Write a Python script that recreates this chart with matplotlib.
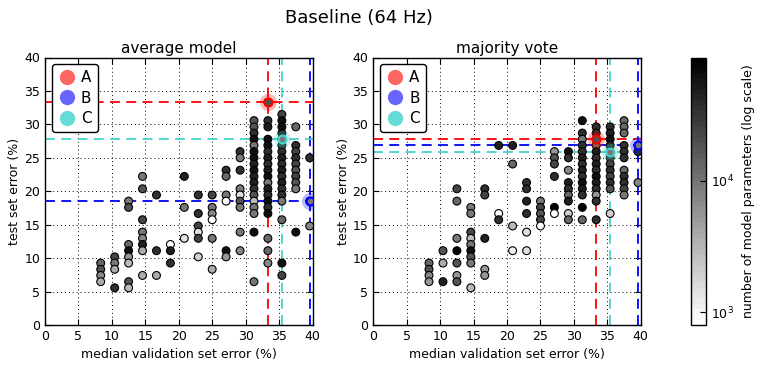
import matplotlib
matplotlib.use('Agg')
import matplotlib.pyplot as plt
from matplotlib.colors import LogNorm
from matplotlib.lines import Line2D
from matplotlib.ticker import FixedLocator, LogFormatterMathtext, NullLocator

# median validation set error (%) -- one value per column of points
val_levels = [8.33, 10.42, 12.5, 14.58, 16.67, 18.75, 20.83, 22.92,
              25.0, 27.08, 29.17, 31.25, 33.33, 35.42, 37.5, 39.58]

# ---- average model: test set error (%) per column ----
avg_test = [
    [9.26, 8.33, 7.41, 6.48],
    [10.19, 9.26, 8.33, 5.56],
    [18.52, 17.59, 12.04, 11.11, 10.19, 9.26, 6.48, 5.56],
    [22.22, 20.37, 15.74, 13.89, 12.96, 12.04, 11.11, 7.41],
    [19.44, 11.11, 7.41],
    [12.04, 11.11, 9.26],
    [22.22, 17.59, 12.96],
    [19.44, 16.67, 14.81, 13.89, 12.96, 10.19],
    [19.44, 17.59, 16.67, 15.74, 12.96, 8.33],
    [23.15, 22.22, 19.44, 18.52, 11.11, 10.19],
    [25.93, 25.00, 23.15, 20.37, 19.44, 18.52, 17.59, 13.89, 11.11],
    [30.56, 29.63, 28.70, 27.78, 26.85, 25.93, 25.00, 24.07, 23.15, 22.22,
     21.30, 20.37, 19.44, 18.52, 17.59, 16.67, 13.89, 6.48],
    [33.33, 30.56, 29.63, 27.78, 26.85, 25.93, 25.00, 24.07, 23.15, 22.22,
     21.30, 20.37, 19.44, 18.52, 17.59, 16.67, 12.96, 11.11, 9.26],
    [31.48, 30.56, 29.63, 28.70, 27.78, 26.85, 25.93, 25.00, 24.07, 23.15,
     22.22, 21.30, 20.37, 19.44, 18.52, 15.74, 9.26, 7.41],
    [29.63, 26.85, 25.93, 25.00, 24.07, 23.15, 22.22, 21.30, 20.37, 13.89],
    [25.00, 18.52, 14.81],
]
# number of model parameters per point
avg_params = [
    [13000, 18000, 7000, 3800],
    [25000, 9700, 3800, 34000],
    [9700, 18000, 13000, 63000, 5200, 2800, 18000, 2800],
    [9700, 18000, 25000, 9700, 7000, 46000, 3800, 3800],
    [34000, 34000, 3800],
    [800, 46000, 34000],
    [46000, 9700, 1500],
    [34000, 34000, 25000, 1500, 25000, 2000],
    [25000, 9700, 7000, 800, 9700, 3800],
    [34000, 13000, 9700, 800, 63000, 5200],
    [34000, 9700, 34000, 9700, 1500, 18000, 9700, 9700, 7000],
    [18000, 18000, 34000, 63000, 9700, 63000, 63000, 46000, 63000, 46000,
     46000, 34000, 18000, 2800, 9700, 9700, 63000, 9700],
    [18000, 34000, 46000, 63000, 63000, 34000, 46000, 34000, 46000, 63000,
     9700, 46000, 34000, 63000, 34000, 63000, 13000, 13000, 7000],
    [25000, 63000, 63000, 63000, 9700, 34000, 34000, 46000, 34000, 46000,
     34000, 46000, 34000, 34000, 9700, 13000, 63000, 25000],
    [13000, 34000, 25000, 34000, 25000, 18000, 25000, 18000, 9700, 63000],
    [34000, 9700, 7000],
]

# ---- majority vote: test set error (%) per column ----
mv_test = [
    [9.26, 8.33, 7.41, 6.48],
    [11.11, 9.26, 6.48],
    [20.37, 18.52, 12.96, 11.11, 9.26, 7.41, 6.48],
    [17.59, 16.67, 13.89, 12.96, 12.04, 11.11, 10.19, 9.26, 5.56],
    [20.37, 19.44, 12.96, 8.33, 7.41],
    [26.85, 16.67, 15.74],
    [26.85, 24.07, 14.81, 11.11],
    [21.30, 20.37, 18.52, 16.67, 13.89, 11.11],
    [18.52, 17.59, 16.67, 15.74, 14.81],
    [25.93, 25.00, 24.07, 22.22, 17.59, 16.67],
    [25.93, 25.00, 23.15, 21.30, 20.37, 19.44, 18.52, 16.67, 15.74],
    [30.56, 28.70, 27.78, 26.85, 25.93, 25.00, 24.07, 23.15, 22.22, 21.30,
     20.37, 19.44, 17.59, 15.74],
    [29.63, 28.70, 27.78, 26.85, 25.93, 25.00, 24.07, 23.15, 22.22, 21.30,
     20.37, 19.44, 18.52, 15.74],
    [29.63, 28.70, 27.78, 26.85, 25.93, 25.00, 24.07, 23.15, 22.22, 21.30,
     20.37, 16.67],
    [30.56, 29.63, 28.70, 26.85, 25.93, 25.00, 23.15, 22.22, 21.30, 20.37, 19.44],
    [26.85, 25.93, 21.30],
]
mv_params = [
    [13000, 18000, 7000, 5200],
    [18000, 3800, 46000],
    [25000, 13000, 9700, 86000, 18000, 5200, 18000],
    [9700, 9700, 25000, 2800, 9700, 63000, 18000, 9700, 2800],
    [34000, 25000, 46000, 5200, 5200],
    [46000, 800, 34000],
    [46000, 13000, 2800, 1100],
    [34000, 34000, 46000, 34000, 1500, 1500],
    [9700, 25000, 18000, 25000, 800],
    [5200, 18000, 25000, 34000, 86000, 800],
    [63000, 34000, 7000, 46000, 34000, 13000, 46000, 2000, 13000],
    [63000, 34000, 9700, 34000, 34000, 46000, 34000, 46000, 34000, 63000,
     46000, 34000, 86000, 13000],
    [34000, 34000, 18000, 9700, 46000, 34000, 46000, 34000, 63000, 46000,
     34000, 5200, 34000, 34000],
    [34000, 46000, 63000, 34000, 9700, 34000, 25000, 34000, 25000, 34000,
     18000, 2000],
    [13000, 13000, 13000, 34000, 34000, 34000, 13000, 34000, 34000, 25000, 9700],
    [9700, 34000, 7000],
]

# highlighted models (val error, test error)
labels = ['A', 'B', 'C']
avg_marked = {'A': (33.33, 33.33), 'B': (39.58, 18.52), 'C': (35.42, 27.78)}
mv_marked = {'A': (33.33, 27.78), 'B': (39.58, 26.85), 'C': (35.42, 25.93)}
line_colors = {'A': '#ff0000', 'B': '#0000ff', 'C': '#48d1cc'}
legend_colors = {'A': '#ff6666', 'B': '#6666ff', 'C': '#66dad4'}

plt.rcParams.update({
    'font.family': ['DejaVu Sans'],
    'xtick.direction': 'in', 'ytick.direction': 'in',
    'xtick.top': True, 'ytick.right': True,
    'xtick.major.size': 4, 'ytick.major.size': 4,
    'xtick.labelsize': 9, 'ytick.labelsize': 9,
    'axes.linewidth': 1.0,
})

W, H = 761, 369
fig = plt.figure(figsize=(W / 100, H / 100), dpi=100)
fig.patch.set_facecolor('white')

cmap = plt.get_cmap('gray_r', 50)
norm = LogNorm(vmin=800, vmax=86000)


def panel(rect, tests, params, marked, title):
    ax = fig.add_axes(rect)
    xs, ys, ps = [], [], []
    for v, ct, cp in zip(val_levels, tests, params):
        for t, p in zip(ct, cp):
            xs.append(v)
            ys.append(t)
            ps.append(p)
    ax.set_axisbelow(True)
    ax.grid(True, color='k', linestyle=(0, (1, 3)), linewidth=0.7)
    for lab in labels:
        x, y = marked[lab]
        ax.axhline(y, color=line_colors[lab], dashes=(5.5, 3.5), lw=1.3, zorder=1.5)
        ax.axvline(x, color=line_colors[lab], dashes=(5.5, 3.5), lw=1.3, zorder=1.5)
    sc = ax.scatter(xs, ys, c=ps, cmap=cmap, norm=norm, s=32,
                    edgecolors='k', linewidths=0.8, zorder=3)
    for lab in labels:
        x, y = marked[lab]
        p = 10000
        for xi, yi, pi in zip(xs, ys, ps):
            if abs(xi - x) < 1e-6 and abs(yi - y) < 1e-6:
                p = pi
        ax.scatter([x], [y], s=150, color=line_colors[lab], alpha=0.28,
                   linewidths=0, zorder=4)
        ax.scatter([x], [y], c=[p], cmap=cmap, norm=norm, s=32,
                   edgecolors=line_colors[lab], linewidths=1.6, zorder=5)
    ax.set_xlim(0, 40)
    ax.set_ylim(0, 40)
    ax.set_xticks(range(0, 41, 5))
    ax.set_yticks(range(0, 41, 5))
    ax.set_xlabel('median validation set error (%)', fontsize=9)
    ax.set_ylabel('test set error (%)', fontsize=9, labelpad=2)
    ax.set_title(title, fontsize=11, pad=3)
    handles = [Line2D([], [], marker='o', ls='', color=legend_colors[l],
                      markersize=11, markeredgewidth=0) for l in labels]
    leg = ax.legend(handles, labels, loc='upper left', fontsize=11,
                    numpoints=1, handletextpad=0.3, borderpad=0.4,
                    labelspacing=0.35, handlelength=1.2,
                    fancybox=True, framealpha=1, borderaxespad=0.45)
    leg.get_frame().set_edgecolor('k')
    leg.get_frame().set_linewidth(1.0)
    leg.set_zorder(10)
    return ax, sc


ax_bottom = (H - 325) / H
ax_height = (325 - 57.5) / H
ax1, sc1 = panel([45 / W, ax_bottom, 267.5 / W, ax_height], avg_test, avg_params,
                 avg_marked, 'average model')
ax2, sc2 = panel([373.3 / W, ax_bottom, 267.5 / W, ax_height], mv_test, mv_params,
                 mv_marked, 'majority vote')

cax = fig.add_axes([691 / W, ax_bottom, 15 / W, ax_height])
cb = fig.colorbar(sc1, cax=cax)
cb.set_ticks([1e3, 1e4])
cb.ax.yaxis.set_major_formatter(LogFormatterMathtext())
cb.ax.yaxis.set_minor_locator(NullLocator())
cb.ax.tick_params(direction='in', length=4, labelsize=9, right=True, left=False)
cb.outline.set_linewidth(1.0)
cb.set_label('number of model parameters (log scale)', fontsize=9, labelpad=6)

fig.suptitle('Baseline (64 Hz)', x=0.472, y=1 - 18 / H, va='center', fontsize=13)

fig.savefig('out.png', dpi=100, facecolor='white')
